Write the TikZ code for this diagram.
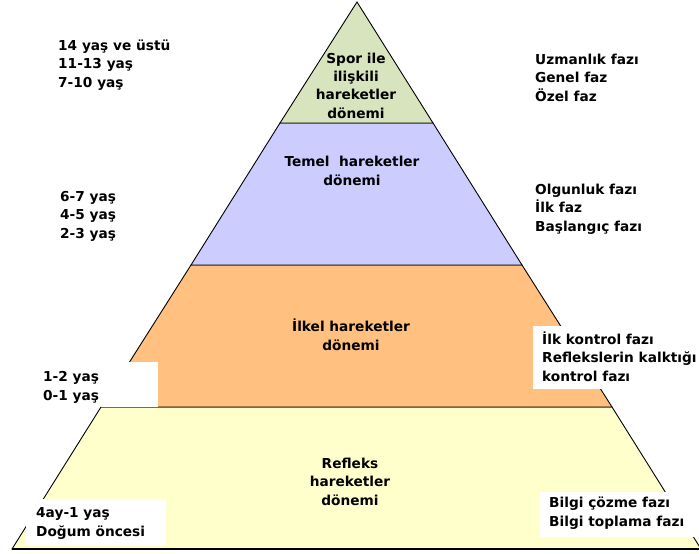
\documentclass[tikz,border=0pt]{standalone}
\usepackage{fontspec}
\setmainfont{DejaVu Sans}
\definecolor{cgreen}{HTML}{D7E4BD}
\definecolor{clav}{HTML}{CCCCFF}
\definecolor{corange}{HTML}{FFC080}
\definecolor{cyellow}{HTML}{FFFFCC}
\tikzset{
  band/.style={draw=black, line width=0.9pt, line join=miter},
  lbl/.style={inner sep=0pt, font=\fontsize{13.7}{18.4}\selectfont\bfseries, align=left, anchor=base west},
  clbl/.style={inner sep=0pt, font=\fontsize{13.7}{18.1}\selectfont\bfseries, align=center, anchor=base},
}
\begin{document}
\begin{tikzpicture}[x=1pt,y=-1pt]
\useasboundingbox[fill=white] (0,0) rectangle (699,554);
% pyramid bands
\draw[band, fill=cyellow] (101,407) -- (612,407) -- (701,549) -- (12,549) -- cycle;
\draw[band, fill=corange] (191,265) -- (522,265) -- (612,407) -- (101,407) -- cycle;
\draw[band, fill=clav] (280,123) -- (433,123) -- (522,265) -- (191,265) -- cycle;
\draw[band, fill=cgreen] (357,2) -- (433,123) -- (280,123) -- cycle;
\draw[black, line width=1.6pt] (12,549) -- (701,549);
% white label boxes
\fill[white] (30,362) rectangle (158,407);
\fill[white] (26,499) rectangle (166,545);
\fill[white] (533,326) rectangle (700,389);
\fill[white] (540,492) rectangle (700,537);
% band titles (anchor = baseline of last line)
\node[clbl] (t1) at (356,118) {Spor ile\\ilişkili\\hareketler\\dönemi};
\node[clbl] (t2) at (352,185) {Temel\ \ hareketler\\dönemi};
\node[clbl] (t3) at (351,350) {İlkel hareketler\\dönemi};
\node[clbl] (t4) at (350,505) {Refleks\\hareketler\\dönemi};
% ages
\node[lbl] (a1) at (58,87) {14 yaş ve üstü\\11-13 yaş\\7-10 yaş};
\node[lbl] (a2) at (60,238) {6-7 yaş\\4-5 yaş\\2-3 yaş};
\node[lbl] (a3) at (43,400) {1-2 yaş\\0-1 yaş};
\node[lbl] (a4) at (36,536) {4ay-1 yaş\\Doğum öncesi};
% phases
\node[lbl] (p1) at (535,101) {Uzmanlık fazı\\Genel faz\\Özel faz};
\node[lbl] (p2) at (535,231) {Olgunluk fazı\\İlk faz\\Başlangıç fazı};
\node[lbl] (p3) at (542,381) {İlk kontrol fazı\\Reflekslerin kalktığı\\kontrol fazı};
\node[lbl] (p4) at (549,526) {Bilgi çözme fazı\\Bilgi toplama fazı};
\end{tikzpicture}
\end{document}
